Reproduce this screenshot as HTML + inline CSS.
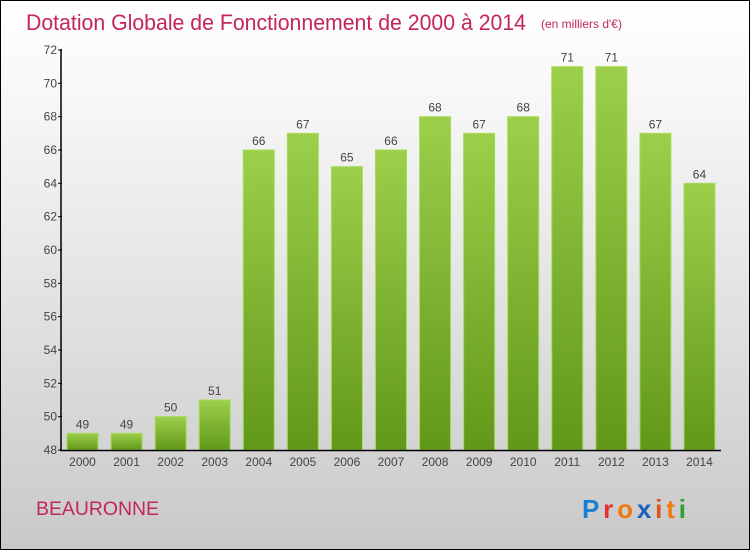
<!DOCTYPE html>
<html><head><meta charset="utf-8"><style>
body{margin:0}
#c{width:750px;height:550px;position:relative;box-sizing:border-box;border:1px solid #000;background:linear-gradient(#fff,#f6f6f6 20%,#c9c9c9);font-family:"Liberation Sans",sans-serif;overflow:hidden}
</style></head><body>
<div id="c">
<svg width="750" height="550" style="position:absolute;left:-1px;top:-1px" id="svg">
<defs><linearGradient id="g" x1="0" y1="0" x2="0" y2="1"><stop offset="0" stop-color="#9ccf4a"/><stop offset="1" stop-color="#62981a"/></linearGradient></defs>
<text x="26" y="30" font-size="22" fill="#c4255e" textLength="500" lengthAdjust="spacingAndGlyphs">Dotation Globale de Fonctionnement de 2000 à 2014</text>
<text x="541" y="28" font-size="12" fill="#c4255e">(en milliers d'€)</text>
<text x="36" y="515" font-size="19" fill="#c4255e" textLength="123" lengthAdjust="spacingAndGlyphs">BEAURONNE</text>
<text x="582" y="518" font-size="26" font-weight="bold" textLength="104" lengthAdjust="spacing"><tspan fill="#1a7fd0">P</tspan><tspan fill="#e03030">r</tspan><tspan fill="#f07a10">o</tspan><tspan fill="#1a60c0">x</tspan><tspan fill="#e05020">i</tspan><tspan fill="#f07a10">t</tspan><tspan fill="#30a030">i</tspan></text>
<g id="plot"></g>
</svg></div>
<script>
const years=["2000","2001","2002","2003","2004","2005","2006","2007","2008","2009","2010","2011","2012","2013","2014"];
const values=[49,49,50,51,66,67,65,66,68,67,68,71,71,67,64];
const yTicks=[48,50,52,54,56,58,60,62,64,66,68,70,72];
const NS="http://www.w3.org/2000/svg",p=document.getElementById('plot');
const y=v=>450-(v-48)*(400/24), x=i=>67+i*44.07;
function mk(t,a,txt){const e=document.createElementNS(NS,t);for(const k in a)e.setAttribute(k,a[k]);if(txt!=null)e.textContent=txt;p.appendChild(e);return e;}
values.forEach((v,i)=>{
 const r=mk('rect',{x:x(i),y:y(v),width:31,height:450-y(v),fill:'url(#g)',stroke:'#a6dc5a','stroke-width':1});
 
 
 const l=mk('text',{x:x(i)+15.5,y:y(v)-5,'text-anchor':'middle','font-size':12,fill:'#444'},v);
 
 
 const t=mk('text',{x:x(i)+15.5,y:466,'text-anchor':'middle','font-size':12,fill:'#444'},years[i]);
 
 
});
yTicks.forEach(v=>{
 mk('line',{x1:58,x2:62,y1:y(v),y2:y(v),stroke:'#000'});
 const t=mk('text',{x:57,y:y(v)+4,'text-anchor':'end','font-size':12,fill:'#444'},v);
 
 
});
const ya=mk('line',{x1:61,x2:61,y1:49,y2:451,stroke:'#000','stroke-width':1.5});


const xa=mk('line',{x1:60,x2:721,y1:450.5,y2:450.5,stroke:'#000','stroke-width':1.5});


</script>
</body></html>
